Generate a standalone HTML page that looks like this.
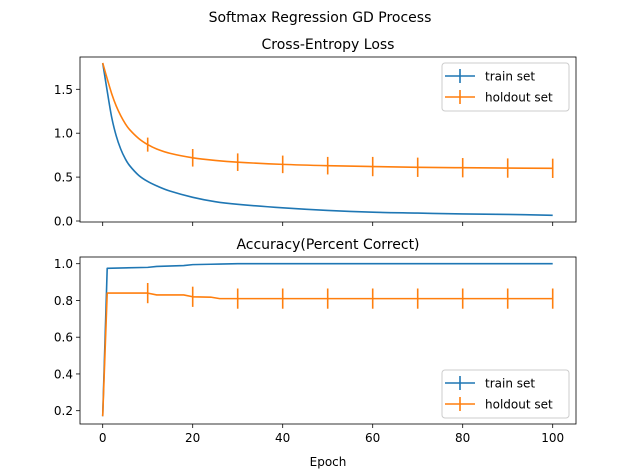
<!DOCTYPE html>
<html><head><meta charset="utf-8"><style>
body{margin:0;background:#fff}
svg{display:block;font-family:"DejaVu Sans","Liberation Sans",sans-serif}
</style></head><body>
<svg id="c" width="640" height="476" xmlns="http://www.w3.org/2000/svg">
<rect width="640" height="476" fill="#fff"/>
<text x="320" y="22" text-anchor="middle" font-size="14">Softmax Regression GD Process</text>
</svg>
<script>
const epochs=[0,1,2,3,4,5,6,8,10,12,15,20,25,30,40,50,60,70,80,90,100];
const trainLoss=[1.8,1.48,1.18,0.97,0.82,0.71,0.63,0.52,0.45,0.40,0.34,0.27,0.22,0.19,0.15,0.12,0.10,0.09,0.08,0.075,0.065];
const holdLoss=[1.8,1.62,1.45,1.31,1.2,1.11,1.04,0.94,0.87,0.82,0.77,0.72,0.69,0.67,0.645,0.63,0.62,0.612,0.607,0.603,0.60];
const accEpochs=[0,1,10,12,18,20,24,26,30,40,100];
const trainAcc=[0.17,0.975,0.98,0.985,0.99,0.995,0.997,0.998,1.0,1.0,1.0];
const holdAcc=[0.17,0.84,0.84,0.83,0.83,0.82,0.818,0.81,0.81,0.81,0.81];
const errEpochs=[10,20,30,40,50,60,70,80,90,100];
const lossErr=[0.08,0.1,0.1,0.1,0.1,0.11,0.11,0.11,0.11,0.11];
const lossErrCenter=[0.87,0.72,0.67,0.645,0.63,0.62,0.612,0.607,0.603,0.60];
const accErr=[0.055,0.055,0.055,0.055,0.055,0.055,0.055,0.055,0.055,0.055];
const accErrCenter=[0.84,0.82,0.81,0.81,0.81,0.81,0.81,0.81,0.81,0.81];
const xTicks=[0,20,40,60,80,100];
const lossTicks=[0,0.5,1.0,1.5];
const accTicks=[0.2,0.4,0.6,0.8,1.0];

const svg=document.getElementById('c');
const NS='http://www.w3.org/2000/svg';
function mk(tag,attrs,parent){const e=document.createElementNS(NS,tag);for(const k in attrs)e.setAttribute(k,attrs[k]);(parent||svg).appendChild(e);return e;}
const X=v=>102.7+v*4.5;
const L=80,R=576;
const yLoss=v=>221-v*87.8;
const yAcc=v=>263.7+(1-v)*183.75;
const BLUE='#1f77b4',ORANGE='#ff7f0e';

function axes(top,bot,yfn,ticks,fmt,name,title,showX){
  const g=mk('g',{});
  
  
  const t=mk('text',{x:(L+R)/2,y:top-8,'text-anchor':'middle','font-size':14},g);
  t.textContent=title;
  
  
  ticks.forEach(v=>{
    const y=yfn(v);
    mk('line',{x1:L-4,x2:L,y1:y,y2:y,stroke:'#000','stroke-width':0.8},g);
    const tx=mk('text',{x:L-7,y:y+4.5,'text-anchor':'end','font-size':12},g);
    tx.textContent=fmt(v);
    
    
  });
  xTicks.forEach(v=>{
    const x=X(v);
    mk('line',{x1:x,x2:x,y1:bot,y2:bot+4,stroke:'#000','stroke-width':0.8},g);
    if(showX){const tx=mk('text',{x:x,y:bot+18,'text-anchor':'middle','font-size':12},g);
      tx.textContent=v;
      
      }
  });
  return g;
}
function series(g,xs,ys,yfn,color,name,smooth){
  const pts=xs.map((e,i)=>[X(e),yfn(ys[i])]);
  let d='M'+pts[0][0]+','+pts[0][1];
  for(let i=0;i<pts.length-1;i++){
    if(!smooth){d+=' L'+pts[i+1][0]+','+pts[i+1][1];continue;}
    const p0=pts[Math.max(0,i-1)],p1=pts[i],p2=pts[i+1],p3=pts[Math.min(pts.length-1,i+2)];
    const c1=[p1[0]+(p2[0]-p0[0])/6,p1[1]+(p2[1]-p0[1])/6];
    const c2=[p2[0]-(p3[0]-p1[0])/6,p2[1]-(p3[1]-p1[1])/6];
    d+=' C'+c1[0]+','+c1[1]+' '+c2[0]+','+c2[1]+' '+p2[0]+','+p2[1];
  }
  const p=mk('path',{d:d,fill:'none',stroke:color,'stroke-width':1.6,'stroke-linejoin':'round'},g);
  
  
}
function errs(g,cs,es,yfn,color,name){
  errEpochs.forEach((e,i)=>{
    const l=mk('line',{x1:X(e),x2:X(e),y1:yfn(cs[i]-es[i]),y2:yfn(cs[i]+es[i]),stroke:color,'stroke-width':1.6},g);
    
    
  });
}
function legend(g,y0,name){
  const lg=mk('g',{},g);
  
  
  mk('rect',{x:442,y:y0,width:127,height:48,rx:3,fill:'#fff','fill-opacity':0.8,stroke:'#ccc'},lg);
  [['train set',BLUE],['holdout set',ORANGE]].forEach((d,i)=>{
    const y=y0+13+i*21;
    mk('line',{x1:445,x2:475,y1:y,y2:y,stroke:d[1],'stroke-width':1.6},lg);
    mk('line',{x1:460,x2:460,y1:y-7,y2:y+7,stroke:d[1],'stroke-width':1.6},lg);
    const t=mk('text',{x:485,y:y+4.5,'font-size':12},lg);
    t.textContent=d[0];
    
    
  });
}
const g1=axes(57,222,yLoss,lossTicks,v=>v.toFixed(1),'loss-axes','Cross-Entropy Loss',false);
series(g1,epochs,trainLoss,yLoss,BLUE,'train-loss-line',true);
series(g1,epochs,holdLoss,yLoss,ORANGE,'holdout-loss-line',true);
errs(g1,lossErrCenter,lossErr,yLoss,ORANGE,'holdout-loss-errorbar');
mk('rect',{x:L,y:57,width:R-L,height:165,fill:'none',stroke:'#000','stroke-width':0.8},g1);
legend(g1,63,'loss-legend');
const g2=axes(257,424,yAcc,accTicks,v=>v.toFixed(1),'accuracy-axes','Accuracy(Percent Correct)',true);
series(g2,accEpochs,trainAcc,yAcc,BLUE,'train-accuracy-line',false);
series(g2,accEpochs,holdAcc,yAcc,ORANGE,'holdout-accuracy-line',false);
errs(g2,accErrCenter,accErr,yAcc,ORANGE,'holdout-accuracy-errorbar');
mk('rect',{x:L,y:257,width:R-L,height:167,fill:'none',stroke:'#000','stroke-width':0.8},g2);
legend(g2,370,'accuracy-legend');
const xl=mk('text',{x:(L+R)/2,y:466,'text-anchor':'middle','font-size':12});
xl.textContent='Epoch';


</script>
</body></html>
